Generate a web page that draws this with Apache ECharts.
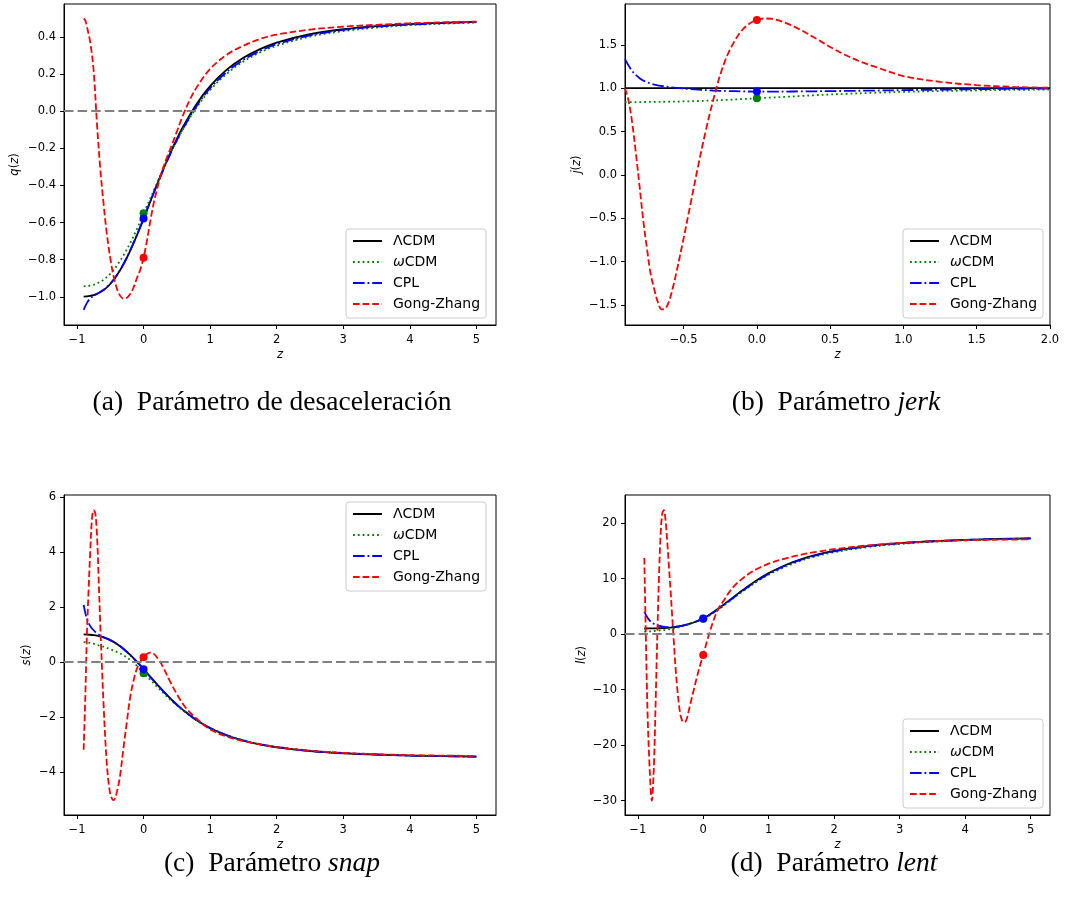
<!DOCTYPE html>
<html>
<head>
<meta charset="utf-8">
<script src="https://cdn.jsdelivr.net/npm/echarts@6/dist/echarts.min.js"></script>
<style>
  html, body { margin: 0; padding: 0; background: #ffffff; }
  #chart { width: 1070px; height: 911px; }
</style>
</head>
<body>
<div id="chart"></div>
<script>
// ---------- data ----------
// Redshift samples for the smooth models (ΛCDM, ωCDM, CPL)
const zModel = [-0.9,-0.85,-0.8,-0.75,-0.7,-0.6,-0.5,-0.4,-0.3,-0.2,-0.1,0,0.1,0.2,0.3,0.4,0.5,0.6,0.8,1.0,1.25,1.5,1.75,2,2.5,3,3.5,4,4.5,5];
const zJerk  = [-0.9,-0.85,-0.8,-0.75,-0.7,-0.6,-0.5,-0.4,-0.3,-0.2,-0.1,0,0.1,0.2,0.3,0.4,0.5,0.6,0.8,1.0,1.25,1.5,1.75,2];

// (a) deceleration parameter q(z)
const qLCDM = [-0.999,-0.998,-0.995,-0.991,-0.984,-0.964,-0.931,-0.884,-0.824,-0.751,-0.669,-0.580,-0.488,-0.397,-0.309,-0.226,-0.149,-0.079,0.041,0.135,0.224,0.288,0.335,0.370,0.415,0.442,0.459,0.470,0.477,0.482];
const qWCDM = [-0.944,-0.942,-0.939,-0.935,-0.928,-0.908,-0.876,-0.832,-0.776,-0.710,-0.635,-0.550,-0.471,-0.388,-0.307,-0.230,-0.159,-0.093,0.022,0.114,0.202,0.268,0.317,0.353,0.402,0.432,0.451,0.464,0.472,0.478];
const qCPL  = [-1.070,-1.033,-1.008,-0.994,-0.984,-0.962,-0.929,-0.882,-0.822,-0.749,-0.667,-0.578,-0.488,-0.399,-0.313,-0.232,-0.157,-0.089,0.030,0.124,0.212,0.277,0.325,0.361,0.409,0.438,0.456,0.467,0.475,0.480];
const zGZq  = [-0.9,-0.875,-0.85,-0.8,-0.75,-0.7,-0.65,-0.6,-0.55,-0.5,-0.45,-0.4,-0.35,-0.3,-0.25,-0.2,-0.15,-0.1,-0.05,0,0.05,0.1,0.15,0.2,0.25,0.3,0.35,0.4,0.5,0.6,0.7,0.8,1.0,1.25,1.5,1.75,2,2.5,3,3.5,4,4.5,5];
const qGZ   = [0.50,0.49,0.455,0.37,0.22,-0.065,-0.31,-0.50,-0.665,-0.79,-0.89,-0.955,-0.995,-1.01,-1.005,-0.985,-0.95,-0.90,-0.855,-0.79,-0.70,-0.595,-0.50,-0.425,-0.355,-0.30,-0.25,-0.205,-0.11,-0.015,0.065,0.13,0.228,0.305,0.353,0.39,0.413,0.44,0.456,0.466,0.474,0.479,0.483];

// (b) jerk parameter j(z)
const jLCDM = [1,1,1,1,1,1,1,1,1,1,1,1,1,1,1,1,1,1,1,1,1,1,1,1];
const jWCDM = [0.840,0.840,0.840,0.841,0.842,0.844,0.847,0.852,0.858,0.866,0.874,0.883,0.892,0.901,0.910,0.919,0.927,0.934,0.947,0.957,0.967,0.974,0.980,0.984];
const jCPL  = [1.335,1.195,1.115,1.068,1.042,1.013,0.995,0.982,0.973,0.967,0.963,0.960,0.960,0.961,0.962,0.964,0.966,0.968,0.972,0.977,0.983,0.988,0.993,0.996];
const zGZj  = [-0.9,-0.875,-0.85,-0.825,-0.8,-0.775,-0.75,-0.725,-0.7,-0.675,-0.65,-0.625,-0.6,-0.575,-0.55,-0.5,-0.45,-0.4,-0.35,-0.3,-0.25,-0.2,-0.15,-0.1,-0.05,0,0.05,0.1,0.2,0.3,0.4,0.5,0.6,0.7,0.8,1.0,1.25,1.5,1.75,2];
const jGZ   = [1.0,0.85,0.59,0.24,-0.14,-0.53,-0.85,-1.14,-1.32,-1.47,-1.55,-1.54,-1.46,-1.31,-1.13,-0.73,-0.31,0.11,0.50,0.85,1.155,1.385,1.55,1.67,1.745,1.786,1.803,1.80,1.75,1.67,1.575,1.475,1.385,1.31,1.25,1.14,1.073,1.035,1.015,1.004];

// (c) snap parameter s(z)
const sLCDM = [0.998,0.994,0.986,0.973,0.953,0.891,0.791,0.651,0.470,0.253,0.006,-0.260,-0.535,-0.809,-1.073,-1.323,-1.554,-1.764,-2.123,-2.405,-2.671,-2.864,-3.005,-3.109,-3.245,-3.326,-3.377,-3.409,-3.432,-3.450];
const sWCDM = [0.72,0.71,0.69,0.66,0.62,0.55,0.46,0.36,0.24,0.07,-0.14,-0.41,-0.65,-0.90,-1.14,-1.37,-1.58,-1.78,-2.13,-2.40,-2.66,-2.85,-2.99,-3.09,-3.23,-3.31,-3.36,-3.40,-3.42,-3.44];
const sCPL  = [2.07,1.55,1.30,1.15,1.04,0.90,0.79,0.65,0.47,0.25,0.00,-0.27,-0.545,-0.82,-1.08,-1.33,-1.56,-1.77,-2.13,-2.41,-2.67,-2.86,-3.00,-3.10,-3.24,-3.32,-3.37,-3.41,-3.43,-3.45];
const zGZs  = [-0.9,-0.875,-0.85,-0.825,-0.8,-0.775,-0.75,-0.725,-0.7,-0.675,-0.65,-0.625,-0.6,-0.575,-0.55,-0.525,-0.5,-0.475,-0.45,-0.425,-0.4,-0.375,-0.35,-0.3,-0.25,-0.2,-0.15,-0.1,-0.05,0,0.05,0.1,0.15,0.2,0.25,0.3,0.4,0.5,0.6,0.7,0.8,0.9,1.0,1.25,1.5,2,2.5,3,3.5,4,4.5,5];
const sGZ   = [-3.2,-1.28,1.05,2.65,4.06,5.2,5.52,5.4,4.65,3.06,1.35,-0.17,-1.58,-2.8,-3.77,-4.4,-4.8,-4.97,-5.03,-4.95,-4.72,-4.45,-4.1,-3.1,-2.17,-1.27,-0.68,-0.25,0.0,0.17,0.29,0.34,0.3,0.17,0.0,-0.22,-0.72,-1.17,-1.56,-1.85,-2.07,-2.28,-2.46,-2.72,-2.88,-3.1,-3.23,-3.31,-3.36,-3.39,-3.41,-3.42];

// (d) lerk ("lent") parameter l(z)
const lLCDM = [1.00,1.004,1.009,1.019,1.033,1.081,1.168,1.314,1.54,1.87,2.30,2.83,3.53,4.33,5.20,6.10,7.01,7.90,9.55,10.97,12.40,13.50,14.34,14.97,15.84,16.38,16.74,16.98,17.13,17.25];
const lWCDM = [0.45,0.47,0.50,0.55,0.60,0.72,0.90,1.12,1.45,1.85,2.28,2.75,3.40,4.18,5.00,5.90,6.80,7.65,9.30,10.70,12.10,13.25,14.10,14.75,15.65,16.22,16.62,16.88,17.05,17.18];
const lCPL  = [4.00,2.95,2.20,1.80,1.55,1.30,1.25,1.35,1.57,1.88,2.30,2.78,3.45,4.25,5.10,6.00,6.90,7.78,9.42,10.85,12.30,13.40,14.25,14.90,15.78,16.34,16.70,16.95,17.10,17.22];
const zGZl  = [-0.9,-0.875,-0.85,-0.825,-0.8,-0.785,-0.775,-0.75,-0.725,-0.7,-0.675,-0.65,-0.625,-0.6,-0.575,-0.55,-0.525,-0.5,-0.475,-0.45,-0.425,-0.4,-0.375,-0.35,-0.325,-0.3,-0.275,-0.25,-0.2,-0.15,-0.1,-0.05,0,0.05,0.1,0.15,0.2,0.25,0.3,0.4,0.5,0.6,0.7,0.8,1.0,1.25,1.5,1.75,2,2.5,3,3.5,4,4.5,5];
const lGZ   = [13.7,-1.5,-14.5,-22.5,-28.5,-30.0,-29.2,-22.5,-11.3,0.5,10.7,18.2,21.8,22.3,20.4,16.7,12.3,8.0,3.3,-1.3,-5.8,-9.4,-12.3,-14.5,-15.5,-15.9,-15.8,-15.2,-12.7,-10.3,-7.9,-5.7,-3.78,-1.6,0.4,2.2,3.8,5.0,5.8,7.6,9.0,10.0,10.9,11.6,12.7,13.6,14.3,14.85,15.3,15.95,16.4,16.7,16.9,17.0,17.05];

// Present-day values (z = 0) for ωCDM, CPL, Gong-Zhang
const zToday = 0;
const qToday = [-0.55, -0.578, -0.79];
const jToday = [0.883, 0.960, 1.786];
const sToday = [-0.41, -0.27, 0.17];
const lToday = [2.75, 2.78, -3.78];

// Tick labels
const zTicksWide = [-1, 0, 1, 2, 3, 4, 5];
const zTicksJerk = [-0.5, 0, 0.5, 1, 1.5, 2];
const qTicks = [-1.0, -0.8, -0.6, -0.4, -0.2, 0, 0.2, 0.4];
const jTicks = [-1.5, -1.0, -0.5, 0, 0.5, 1.0, 1.5];
const sTicks = [-4, -2, 0, 2, 4, 6];
const lTicks = [-30, -20, -10, 0, 10, 20];

const modelNames = ['ΛCDM', 'ωCDM', 'CPL', 'Gong-Zhang'];
const captions = [
  '(a)  Parámetro de desaceleración',
  '(b)  Parámetro {i|jerk}',
  '(c)  Parámetro {i|snap}',
  '(d)  Parámetro {i|lent}'
];

// ---------- styling ----------
const SANS = 'DejaVu Sans';
const SERIF = 'Liberation Serif';
const TICK_SIZE = 11.5;
const CAP_SIZE = 27.5;
const lineLook = {
  'ΛCDM':       { color: '#000000', dash: 'solid' },
  'ωCDM':       { color: '#008000', dash: [1.8, 3.0] },
  'CPL':        { color: '#0000ff', dash: [11.6, 2.9, 1.8, 2.9] },
  'Gong-Zhang': { color: '#ff0000', dash: [6.7, 2.9] }
};
const dotColors = ['#008000', '#0000ff', '#ff0000'];

const pairs = (z, v) => z.map((x, i) => [x, v[i]]);
const fmt = d => v => (v < 0 ? '\u2212' : '') + Math.abs(v).toFixed(d);

const grids = [
  { left: 64,  top: 4,   width: 432, height: 321 },
  { left: 625, top: 4,   width: 425, height: 321 },
  { left: 64,  top: 495, width: 432, height: 320 },
  { left: 625, top: 495, width: 425, height: 320 }
].map(g => Object.assign({ show: true, borderColor: '#000', borderWidth: 1, backgroundColor: '#fff' }, g));

function xAxisFor(g, min, max, ticks, decimals) {
  return {
    type: 'value', gridIndex: g, min, max,
    name: 'z', nameLocation: 'middle', nameGap: 24,
    nameTextStyle: { fontFamily: SANS, fontSize: TICK_SIZE, fontStyle: 'italic', color: '#000' },
    axisLine: { show: true, onZero: false, lineStyle: { color: '#000', width: 1 } },
    axisTick: { show: true, inside: false, length: 4, customValues: ticks, lineStyle: { color: '#000', width: 1 } },
    axisLabel: { margin: 9, customValues: ticks, formatter: fmt(decimals), fontFamily: SANS, fontSize: TICK_SIZE, color: '#000' },
    splitLine: { show: false }
  };
}
function yAxisFor(g, min, max, ticks, decimals, letter, gap) {
  return {
    type: 'value', gridIndex: g, min, max,
    name: '{i|' + letter + '}({i|z})', nameLocation: 'middle', nameGap: gap,
    nameTextStyle: { fontFamily: SANS, fontSize: TICK_SIZE, color: '#000',
      rich: { i: { fontFamily: SANS, fontSize: TICK_SIZE, fontStyle: 'italic', color: '#000' } } },
    axisLine: { show: true, onZero: false, lineStyle: { color: '#000', width: 1 } },
    axisTick: { show: true, inside: false, length: 4, customValues: ticks, lineStyle: { color: '#000', width: 1 } },
    axisLabel: { margin: 8, customValues: ticks, formatter: fmt(decimals), fontFamily: SANS, fontSize: TICK_SIZE, color: '#000' },
    splitLine: { show: false }
  };
}

// Horizontal reference line at zero
const zeroLine = {
  silent: true, symbol: 'none', animation: false,
  label: { show: false },
  lineStyle: { color: '#808080', width: 2, type: [9.5, 4.1] },
  data: [{ yAxis: 0 }]
};

function curve(name, g, z, v, withZero) {
  const look = lineLook[name];
  const s = {
    type: 'line', name, xAxisIndex: g, yAxisIndex: g,
    data: pairs(z, v), symbol: 'none', smooth: 0.35, silent: true, z: 2,
    lineStyle: { color: look.color, width: 1.8, type: look.dash },
    itemStyle: { color: look.color }
  };
  if (withZero) s.markLine = zeroLine;
  return s;
}
function dots(g, values) {
  return values.map((v, i) => ({
    type: 'scatter', name: 'z0-' + g + '-' + i, xAxisIndex: g, yAxisIndex: g,
    data: [[zToday, v]], symbol: 'circle', symbolSize: 8, silent: true, z: 3,
    itemStyle: { color: dotColors[i], opacity: 1 }
  }));
}

const series = [
  curve('ΛCDM', 0, zModel, qLCDM, true),
  curve('ωCDM', 0, zModel, qWCDM),
  curve('CPL', 0, zModel, qCPL),
  curve('Gong-Zhang', 0, zGZq, qGZ),
  ...dots(0, qToday),

  curve('ΛCDM', 1, zJerk, jLCDM),
  curve('ωCDM', 1, zJerk, jWCDM),
  curve('CPL', 1, zJerk, jCPL),
  curve('Gong-Zhang', 1, zGZj, jGZ),
  ...dots(1, jToday),

  curve('ΛCDM', 2, zModel, sLCDM, true),
  curve('ωCDM', 2, zModel, sWCDM),
  curve('CPL', 2, zModel, sCPL),
  curve('Gong-Zhang', 2, zGZs, sGZ),
  ...dots(2, sToday),

  curve('ΛCDM', 3, zModel, lLCDM, true),
  curve('ωCDM', 3, zModel, lWCDM),
  curve('CPL', 3, zModel, lCPL),
  curve('Gong-Zhang', 3, zGZl, lGZ),
  ...dots(3, lToday)
];

function legendAt(left, top) {
  return {
    orient: 'vertical', left, top, data: modelNames, selectedMode: false,
    padding: [5, 6, 7, 6], itemWidth: 29, itemHeight: 14, itemGap: 7,
    backgroundColor: 'rgba(255,255,255,0.8)', borderColor: '#cccccc', borderWidth: 1, borderRadius: 3,
    itemStyle: { opacity: 0 },
    formatter: n => n === 'ωCDM' ? '{i|ω}CDM' : n,
    textStyle: { fontFamily: SANS, fontSize: 14, color: '#000', padding: [0, 0, 0, 6],
      rich: { i: { fontFamily: SANS, fontSize: 14, fontStyle: 'italic', color: '#000' } } }
  };
}

const capPos = [[272, 403], [836, 403], [272, 864], [834, 864]];

const option = {
  animation: false,
  backgroundColor: '#ffffff',
  grid: grids,
  xAxis: [
    xAxisFor(0, -1.195, 5.295, zTicksWide, 0),
    xAxisFor(1, -0.9, 2.0, zTicksJerk, 1),
    xAxisFor(2, -1.195, 5.295, zTicksWide, 0),
    xAxisFor(3, -1.195, 5.295, zTicksWide, 0)
  ],
  yAxis: [
    yAxisFor(0, -1.152, 0.578, qTicks, 1, 'q', 43),
    yAxisFor(1, -1.73, 1.97, jTicks, 1, 'j', 42),
    yAxisFor(2, -5.57, 6.07, sTicks, 0, 's', 31),
    yAxisFor(3, -32.6, 25.05, lTicks, 0, 'l', 37)
  ],
  legend: [legendAt(346, 229), legendAt(903, 229), legendAt(346, 502), legendAt(903, 719)],
  series,
  graphic: captions.map((c, i) => ({
    type: 'text', x: capPos[i][0], y: capPos[i][1], silent: true,
    style: {
      text: c, fill: '#000', fontFamily: SERIF, fontSize: CAP_SIZE,
      align: 'center', verticalAlign: 'middle',
      rich: { i: { fontFamily: SERIF, fontSize: CAP_SIZE, fontStyle: 'italic', fill: '#000' } }
    }
  }))
};

const chart = echarts.init(document.getElementById('chart'), null, { renderer: 'canvas' });
chart.setOption(option);
</script>
</body>
</html>
